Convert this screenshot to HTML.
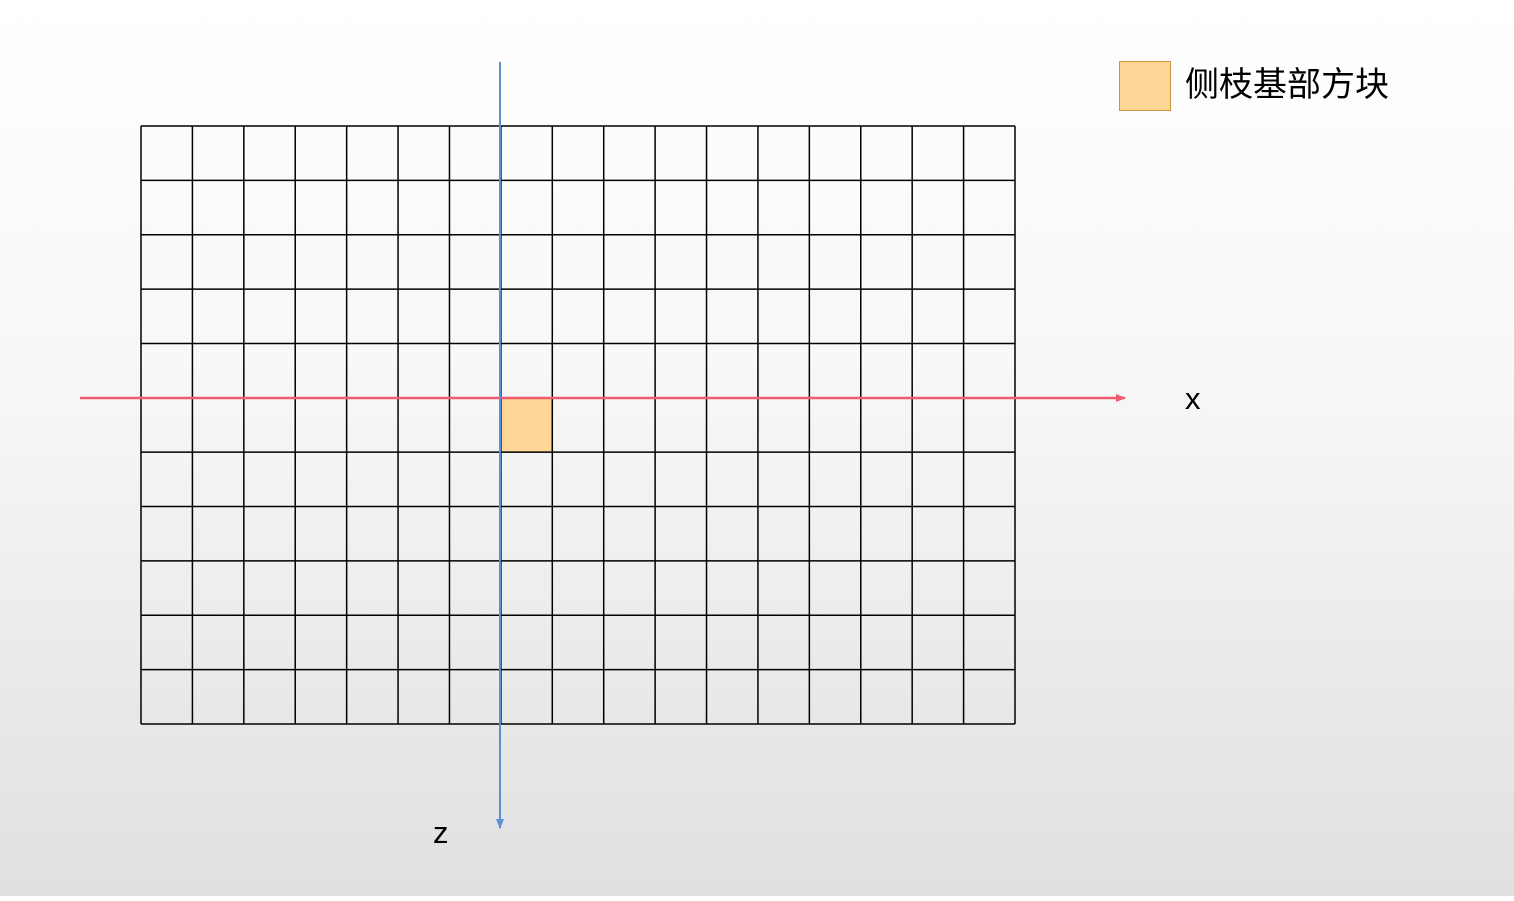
<!DOCTYPE html>
<html><head><meta charset="utf-8"><style>
html,body{margin:0;padding:0;}
body{width:1514px;height:896px;overflow:hidden;background:linear-gradient(#ffffff 0%,#f8f8f8 40%,#e0e0e0 100%);font-family:"Liberation Sans","Noto Sans CJK SC",sans-serif;}
</style></head><body>
<svg id="chart" width="1514" height="896" xmlns="http://www.w3.org/2000/svg">
<defs>
<marker id="ar" markerWidth="10" markerHeight="10" refX="9" refY="5" orient="auto" markerUnits="userSpaceOnUse"><path d="M0,1 L10,5 L0,9 z" fill="#ee5c6f"/></marker>
<marker id="ab" markerWidth="10" markerHeight="10" refX="9" refY="5" orient="auto" markerUnits="userSpaceOnUse"><path d="M0,1 L10,5 L0,9 z" fill="#5b8fd6"/></marker>
</defs>
<g id="grid"></g>
</svg>
<script>
const cols = 17;
const rows = 11;
const highlighted = [[7, 5]];
const svgNS = "http://www.w3.org/2000/svg";
const svg = document.getElementById('chart');
const g = document.getElementById('grid');
const x0 = 141, x1 = 1015, y0 = 126, y1 = 724;
const cw = (x1 - x0) / cols, rh = (y1 - y0) / rows;
function mk(tag, attrs){const e=document.createElementNS(svgNS,tag);for(const k in attrs)e.setAttribute(k,attrs[k]);return e;}
highlighted.forEach(([c,r])=>{
  const rc = mk('rect',{x:x0+c*cw,y:y0+r*rh,width:cw,height:rh,fill:'#fed695'});
  
  
  g.appendChild(rc);
});
for(let i=0;i<=cols;i++){
  const l = mk('line',{x1:x0+i*cw,y1:y0,x2:x0+i*cw,y2:y1,stroke:'#000','stroke-width':1.5});
  
  
  g.appendChild(l);
}
for(let j=0;j<=rows;j++){
  const l = mk('line',{x1:x0,y1:y0+j*rh,x2:x1,y2:y0+j*rh,stroke:'#000','stroke-width':1.5});
  
  
  g.appendChild(l);
}
const xa = mk('line',{x1:80,y1:398,x2:1125,y2:398,stroke:'#ee5c6f','stroke-width':2.5,'marker-end':'url(#ar)'});


svg.appendChild(xa);
const za = mk('line',{x1:500,y1:62,x2:500,y2:828,stroke:'#5b8fd6','stroke-width':2,'marker-end':'url(#ab)'});


svg.appendChild(za);
</script>
<div style="position:absolute;left:1185px;top:381px;font-size:31px;">x</div>
<div style="position:absolute;left:433px;top:815px;font-size:31px;">z</div>
<div style="position:absolute;left:1119px;top:61px;">
<div style="position:absolute;left:0;top:0;width:50px;height:48px;background:#fed695;border:1.5px solid #c9963a;"></div>
<div style="position:absolute;left:66px;top:1px;font-size:34px;white-space:nowrap;line-height:46px;">侧枝基部方块</div>
</div>
</body></html>
